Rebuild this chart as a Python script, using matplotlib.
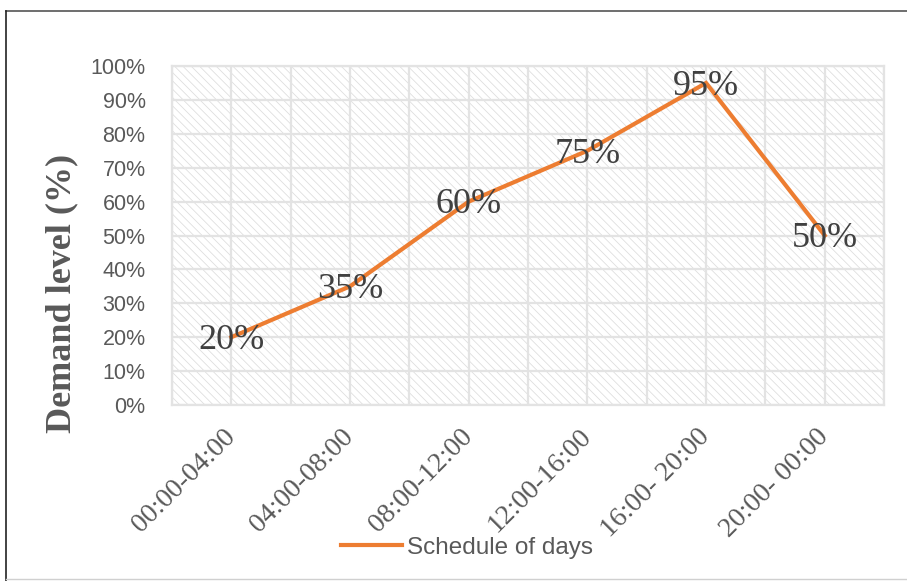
import matplotlib.pyplot as plt
from matplotlib.patches import Rectangle
from matplotlib.lines import Line2D
from matplotlib.ticker import MultipleLocator, PercentFormatter

periods = ['00:00-04:00', '04:00-08:00', '08:00-12:00',
           '12:00-16:00', '16:00- 20:00', '20:00- 00:00']
demand = [20, 35, 60, 75, 95, 50]
series_name = 'Schedule of days'

plt.rcParams['hatch.color'] = '#dcdcdc'
plt.rcParams['hatch.linewidth'] = 0.55

fig = plt.figure(figsize=(9.07, 5.81), dpi=100)
ax = fig.add_axes([0.1896, 0.3029, 0.7851, 0.5835])

x = list(range(len(periods)))
ax.set_xlim(-0.5, len(periods) - 0.5)
ax.set_ylim(0, 100)

# hatched plot area
ax.add_patch(Rectangle((0, 0), 1, 1, transform=ax.transAxes, facecolor='white',
                       edgecolor='#dcdcdc', hatch='\\\\\\\\', linewidth=0, zorder=0))

# grid lines at category centres and boundaries
ax.xaxis.set_major_locator(MultipleLocator(1))
ax.xaxis.set_minor_locator(MultipleLocator(0.5))
ax.yaxis.set_major_locator(MultipleLocator(10))
ax.grid(which='both', axis='x', color='#e3e3e3', linewidth=1.6, zorder=1)
ax.grid(which='major', axis='y', color='#e3e3e3', linewidth=1.6, zorder=1)
ax.set_axisbelow(True)
for s in ax.spines.values():
    s.set_color('#e3e3e3')
    s.set_linewidth(1.6)

ax.plot(x, demand, color='#ed7d31', linewidth=3, solid_joinstyle='miter',
        label=series_name, zorder=3)
for xi, v in zip(x, demand):
    ax.text(xi, v - 1, f'{v}%', ha='center', va='center', fontsize=26,
            family='Liberation Serif', color='#404040', zorder=4)

ax.yaxis.set_major_formatter(PercentFormatter(decimals=0))
ax.tick_params(which='both', length=0)
ax.tick_params(axis='y', pad=19, labelsize=15.5, labelcolor='#595959')
for lab in ax.get_yticklabels():
    lab.set_family('Liberation Sans')

ax.set_xticks(x)
ax.set_xticklabels(periods, rotation=45, ha='right', va='center',
                   rotation_mode='anchor', fontsize=20, family='Liberation Serif',
                   color='#595959')
ax.tick_params(axis='x', pad=20)

fig.text(62 / 907, 1 - 293 / 581, 'Demand level (%)', rotation=90,
         ha='center', va='center', fontsize=26, fontweight='bold',
         family='Liberation Serif', color='#595959')

fig.legend(loc='center', bbox_to_anchor=(0.515, 0.057), frameon=False,
           handlelength=2.5, handletextpad=0.2,
           prop={'family': 'Liberation Sans', 'size': 17.5}, labelcolor='#595959')

# outer chart border
fig.add_artist(Line2D([6 / 907, 1], [1 - 11 / 581] * 2, color='#555555', linewidth=1.2))
fig.add_artist(Line2D([6 / 907] * 2, [0, 1 - 11 / 581], color='#222222', linewidth=1.2))
fig.add_artist(Line2D([6 / 907, 1], [2 / 581] * 2, color='#d0d0d0', linewidth=1))

fig.savefig('out.png', dpi=100)
